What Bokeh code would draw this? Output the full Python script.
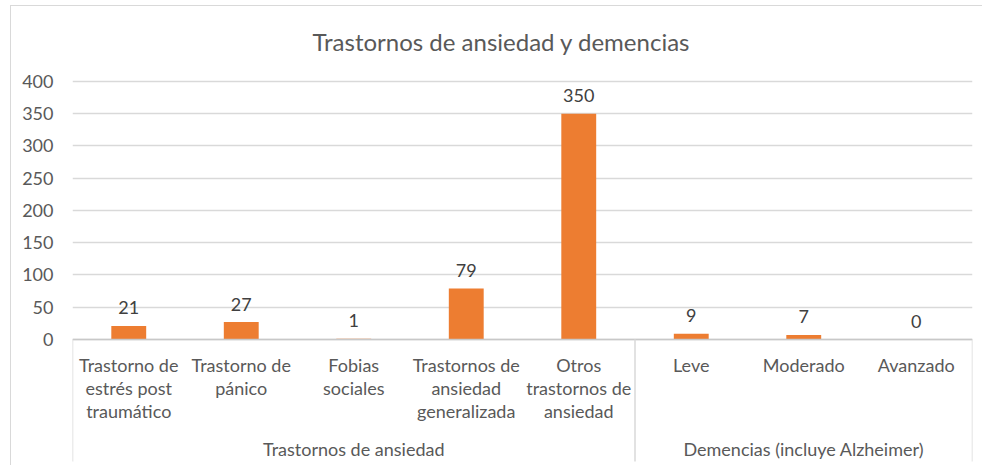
from bokeh.plotting import figure
from bokeh.models import Range1d, FixedTicker, ColumnDataSource
from bokeh.core.properties import value
from bokeh.embed import file_html
from bokeh.resources import INLINE

# ---- data ----
categories = [
    "Trastorno de\nestrés post\ntraumático",
    "Trastorno de\npánico",
    "Fobias\nsociales",
    "Trastornos de\nansiedad\ngeneralizada",
    "Otros\ntrastornos de\nansiedad",
    "Leve",
    "Moderado",
    "Avanzado",
]
values = [21, 27, 1, 79, 350, 9, 7, 0]
groups = ["Trastornos de ansiedad", "Demencias (incluye Alzheimer)"]
group_sizes = [5, 3]
y_ticks = [0, 50, 100, 150, 200, 250, 300, 350, 400]
title_text = "Trastornos de ansiedad y demencias"

# ---- styling ----
FONT = "Lato"
TXT = "#595959"
GRID = "#D9D9D9"
BAR = "#ED7D31"

n = len(categories)
xs = [i + 0.5 for i in range(n)]
Y_BOTTOM = -196.9

p = figure(width=972, height=460, output_backend="svg", toolbar_location=None,
           x_range=Range1d(0, n), y_range=Range1d(Y_BOTTOM, 418.6),
           x_axis_location=None, min_border_left=61, min_border_right=11,
           min_border_top=63, min_border_bottom=0)
p.styles = {"margin-left": "10px", "margin-top": "5px",
            "border-top": "1px solid #D9D9D9", "border-left": "1px solid #D9D9D9"}
p.outline_line_color = None
p.xgrid.grid_line_color = None
p.ygrid.grid_line_color = GRID
p.ygrid.grid_line_width = 1.5
p.yaxis.ticker = FixedTicker(ticks=y_ticks)
p.ygrid.ticker = FixedTicker(ticks=y_ticks)
p.yaxis.axis_line_color = None
p.yaxis.major_tick_line_color = None
p.yaxis.minor_tick_line_color = None
p.yaxis.major_tick_out = 0
p.yaxis.major_tick_in = 0
p.yaxis.major_label_standoff = 19
p.yaxis.major_label_text_font = FONT
p.yaxis.major_label_text_font_size = "18px"
p.yaxis.major_label_text_color = TXT

p.title.text = title_text
p.title.align = "left"
p.title.text_font = FONT
p.title.text_font_size = "24px"
p.title.text_font_style = "normal"
p.title.text_color = TXT
p.title.offset = 240
p.title.standoff = 27

src = ColumnDataSource(dict(x=xs, v=values, lab=[str(v) for v in values], cat=categories))
p.vbar(x="x", top="v", width=0.31, bottom=0, source=src, fill_color=BAR, line_color=None)

# data labels
p.text(x="x", y="v", text="lab", source=src, y_offset=-18, text_align="center",
       text_baseline="alphabetic", text_font=value(FONT), text_font_size="18px",
       text_color="#404040")

# category axis line and group separators
bounds = [0]
for s in group_sizes:
    bounds.append(bounds[-1] + s)
p.segment(x0=[0], y0=[0], x1=[n], y1=[0], line_color="#C8C8C8", line_width=1.5)
p.segment(x0=bounds, y0=[0] * len(bounds), x1=bounds, y1=[-189] * len(bounds),
          line_color="#D9D9D9", line_width=1.5)

# category labels
p.text(x="x", y=-22, text="cat", source=src, text_align="center", text_baseline="top",
       text_font=value(FONT), text_font_size="18px", text_color=TXT, text_line_height=1.05)

# group labels
gx = [(bounds[i] + bounds[i + 1]) / 2 for i in range(len(groups))]
p.text(x=gx, y=[-170.5] * len(groups), text=groups, text_align="center",
       text_baseline="middle", text_font=value(FONT), text_font_size="18px", text_color=TXT)

open("out.html", "w").write(file_html(p, INLINE))
